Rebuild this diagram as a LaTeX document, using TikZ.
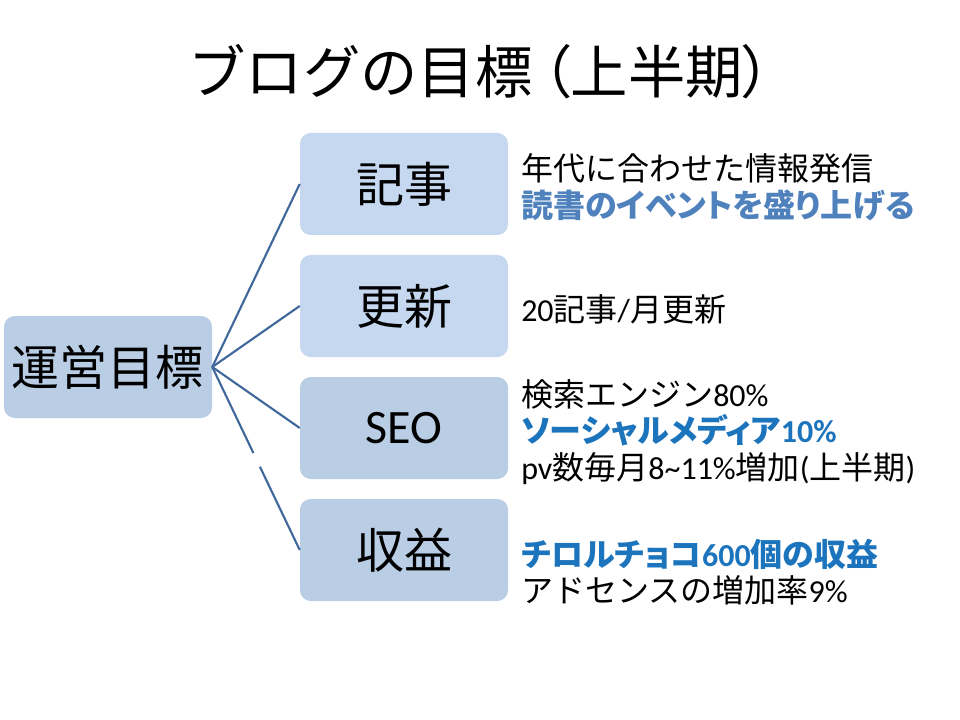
\documentclass[tikz,border=0pt]{standalone}
\usepackage{fontspec}
\setmainfont{Noto Sans CJK JP}
\newfontfamily\lat{Carlito}
\newfontfamily\propjp[RawFeature=+palt]{Noto Sans CJK JP}
\usetikzlibrary{positioning,calc}

\definecolor{boxlight}{HTML}{C6D8F0}
\definecolor{boxdark}{HTML}{B9CDE5}
\definecolor{linkblue}{HTML}{41689B}
\definecolor{softblue}{HTML}{4F81BD}
\definecolor{deepblue}{HTML}{1C74BC}

\tikzset{
  box/.style={rounded corners=8, minimum width=156pt, minimum height=76.5pt,
    inner sep=0pt, font=\fontsize{36}{40}\selectfont},
  link/.style={draw=linkblue, line width=1.6pt},
  memo/.style={anchor=west, inner sep=0pt, align=left,
    font=\fontsize{24}{27.5}\selectfont}
}

\begin{document}
\begin{tikzpicture}[x=0.75pt, y=-0.75pt]
    \useasboundingbox (0,0) rectangle (960,720);

    % Title
    \node[font=\fontsize{43}{48}\selectfont] (title) at (480,72)
        {ブログの目標{\propjp\,（}上半期{\propjp）}};

    % Boxes
    \node[box, fill=boxdark] (goal) at (108,367) {運営目標};
    \node[box, fill=boxlight] (kiji) at (404,184) {記事};
    \node[box, fill=boxlight] (koushin) at (404,306) {更新};
    \node[box, fill=boxdark] (seo) at (404,428) {\lat SEO};
    \node[box, fill=boxdark] (shueki) at (404,550) {収益};

    % Connectors
    \draw[link] (goal.east) -- (kiji.west);
    \draw[link] (goal.east) -- (koushin.west);
    \draw[link] (goal.east) -- (seo.west);
    \draw[link] (goal.east) -- ($(goal.east)!0.47!(shueki.west)$);
    \draw[link] ($(goal.east)!0.545!(shueki.west)$) -- (shueki.west);

    % Notes
    \node[memo] (kijitext) at (521,187) {年代に合わせた情報発信\\
        \textcolor{softblue}{\propjp\bfseries 読書のイベントを盛り上げる}};
    \node[memo] (koushintext) at (521,309) {{\lat 20}記事{\lat /}月更新};
    \node[memo] (seotext) at (521,432) {検索エンジン{\lat 80\%}\\
        \textcolor{deepblue}{\propjp\bfseries ソーシャルメディア{\lat 10\%}}\\
        {\lat pv}数毎月{\lat 8\textasciitilde11\%}増加{\lat (}上半期{\lat )}};
    \node[memo] (shuekitext) at (521,572) {\textcolor{deepblue}{\propjp\bfseries チロルチョコ{\lat 600}個の収益}\\
        アドセンスの増加率{\lat 9\%}};
\end{tikzpicture}
\end{document}
